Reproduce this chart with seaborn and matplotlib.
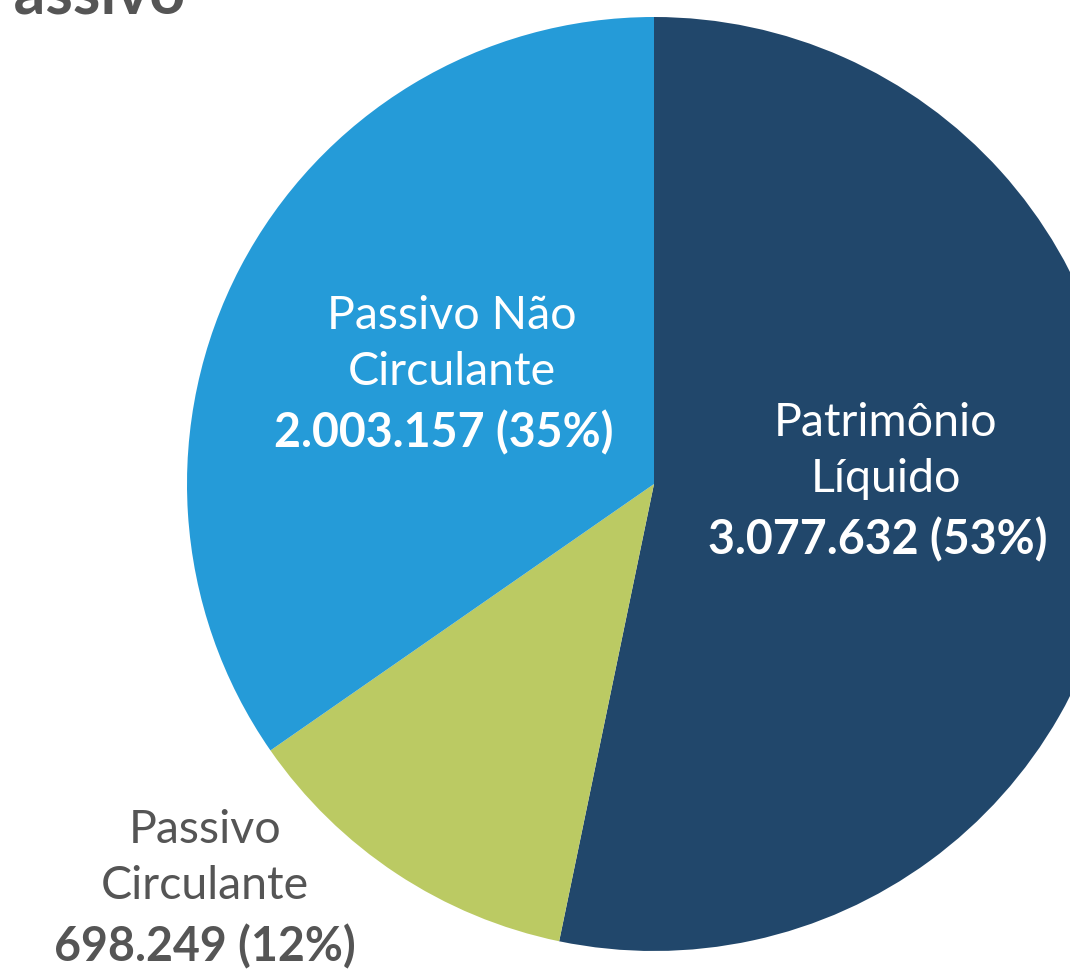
import seaborn as sns
import matplotlib.pyplot as plt

# Data
categories = [["Patrimônio", "Líquido"], ["Passivo", "Circulante"], ["Passivo Não", "Circulante"]]
values = [3077632, 698249, 2003157]
colors = ["#21476B", "#BBCA63", "#259BD8"]
text_colors = ["white", "#555555", "white"]
# centre of each label's first line, pixels from top-left
label_pos = [(886, 423), (205, 830), (452, 316)]

sns.set_style("white")
plt.rcParams["font.family"] = ["Lato", "DejaVu Sans"]

W, H = 1070, 970
fig = plt.figure(figsize=(W / 100, H / 100), dpi=100)
ax = fig.add_axes([0, 0, 1, 1])

ax.pie(values, colors=colors, startangle=90, counterclock=False,
       center=(654, H - 485), radius=467,
       wedgeprops=dict(linewidth=0))
ax.set_xlim(0, W)
ax.set_ylim(0, H)
ax.set_aspect("equal")
ax.axis("off")

total = sum(values)
for lines, v, (x, y), tc in zip(categories, values, label_pos, text_colors):
    pct = round(v / total * 100)
    val = f"{v:,}".replace(",", ".")
    ax.text(x, H - y, lines[0], ha="center", va="center", fontsize=33.5, color=tc)
    ax.text(x, H - y - 56, lines[1], ha="center", va="center", fontsize=33.5, color=tc)
    ax.text(x - 8 if tc == "white" else x, H - y - 117, f"{val} ({pct}%)",
            ha="center", va="center", fontsize=33.5, fontweight="bold", color=tc)

fig.text(-25 / W, 1 - 14 / H, "Passivo", ha="left", va="baseline",
         fontsize=45, fontweight="bold", color="#555555")

plt.savefig("out.png", dpi=100)
plt.close()
